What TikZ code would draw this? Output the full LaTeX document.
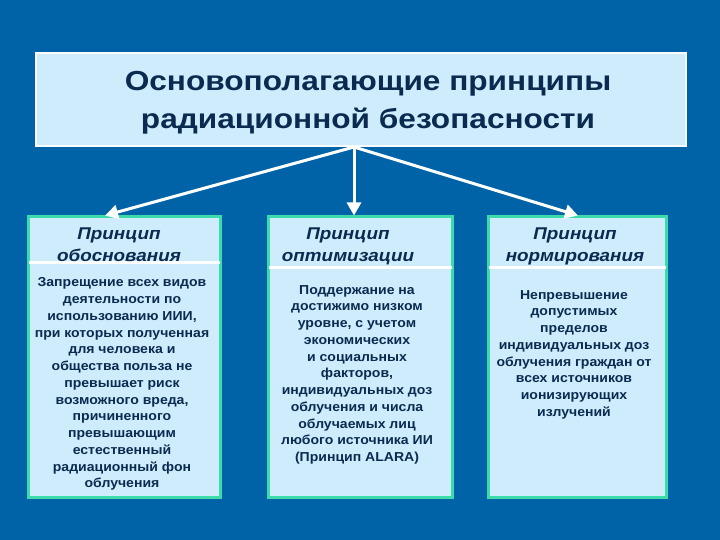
\documentclass[tikz,border=0pt]{standalone}
\usepackage{fontspec}
\setmainfont{Liberation Sans}
\newfontfamily\titlefont[FakeStretch=1.15]{Liberation Sans}
\newfontfamily\headfont[FakeStretch=1.11]{Liberation Sans}
\newfontfamily\bodyfont[FakeStretch=1.08]{Liberation Sans}
\usetikzlibrary{arrows.meta,calc}
\definecolor{bg}{RGB}{0,99,168}
\definecolor{boxfill}{RGB}{206,236,252}
\definecolor{navy}{RGB}{10,42,80}
\definecolor{edgegreen}{RGB}{60,220,170}
\tikzset{
  titlebox/.style={fill=boxfill, draw=white!85!boxfill, line width=2pt, inner sep=0pt},
  titletext/.style={align=center, text=navy, inner sep=0pt, font=\titlefont\fontsize{27.5}{38}\selectfont\bfseries},
  pbox/.style={fill=boxfill, draw=edgegreen, line width=3pt, inner sep=0pt},
  headtext/.style={align=center, text=navy, inner sep=0pt, font=\headfont\fontsize{17}{22}\selectfont\bfseries\itshape},
  bodytext/.style={align=center, text=navy, inner sep=0pt, anchor=north, font=\bodyfont\fontsize{13}{16.75}\selectfont\bfseries},
  sepline/.style={white, line width=2.5pt},
  arr/.style={white, line width=3pt, -{Triangle[length=13pt,width=14pt]}}
}
\begin{document}
\begin{tikzpicture}[x=1pt,y=-1pt]
\fill[bg] (0,0) rectangle (720,540);
\useasboundingbox (0,0) rectangle (720,540);

\node[titlebox, minimum width=650pt, minimum height=93pt] (title) at (361,99.5) {};
\node[titletext] (tt) at (368,103) {Основополагающие принципы\\радиационной безопасности};

\node[pbox, minimum width=192pt, minimum height=280pt] (b1) at (124,357) {};
\node[pbox, minimum width=184pt, minimum height=280pt] (b2) at (360,357) {};
\node[pbox, minimum width=178pt, minimum height=280pt] (b3) at (577,357) {};

\draw[sepline] ($(b1.north west)+(2,47)$) -- ($(b1.north east)+(-2,47)$);
\draw[sepline] ($(b2.north west)+(2,52)$) -- ($(b2.north east)+(-2,52)$);
\draw[sepline] ($(b3.north west)+(2,52)$) -- ($(b3.north east)+(-2,52)$);

\node[headtext] (h1) at (119,245) {Принцип\\обоснования};
\node[headtext] (h2) at (348,246) {Принцип\\оптимизации};
\node[headtext] (h3) at (575,246) {Принцип\\нормирования};

\node[bodytext] (t1) at (122,277.5) {Запрещение всех видов\\деятельности по\\использованию ИИИ,\\при которых полученная\\для человека и\\общества польза не\\превышает риск\\возможного вреда,\\причиненного\\превышающим\\естественный\\радиационный фон\\облучения};
\node[bodytext] (t2) at (357,285) {Поддержание на\\достижимо низком\\уровне, с учетом\\экономических\\и социальных\\факторов,\\индивидуальных доз\\облучения и числа\\облучаемых лиц\\любого источника ИИ\\(Принцип ALARA)};
\node[bodytext] (t3) at (574,290) {Непревышение\\допустимых\\пределов\\индивидуальных доз\\облучения граждан от\\всех источников\\ионизирующих\\излучений};

\coordinate (hub) at ($(title.south)+(-7,0)$);
\coordinate (e1) at ($(b1.north)+(-19,0)$);
\coordinate (e2) at ($(b2.north)+(-6,0)$);
\coordinate (e3) at ($(b3.north)+(1,0)$);
\draw[arr] (hub) -- (e1);
\draw[arr] (hub) -- (e2);
\draw[arr] (hub) -- (e3);
\end{tikzpicture}
\end{document}
